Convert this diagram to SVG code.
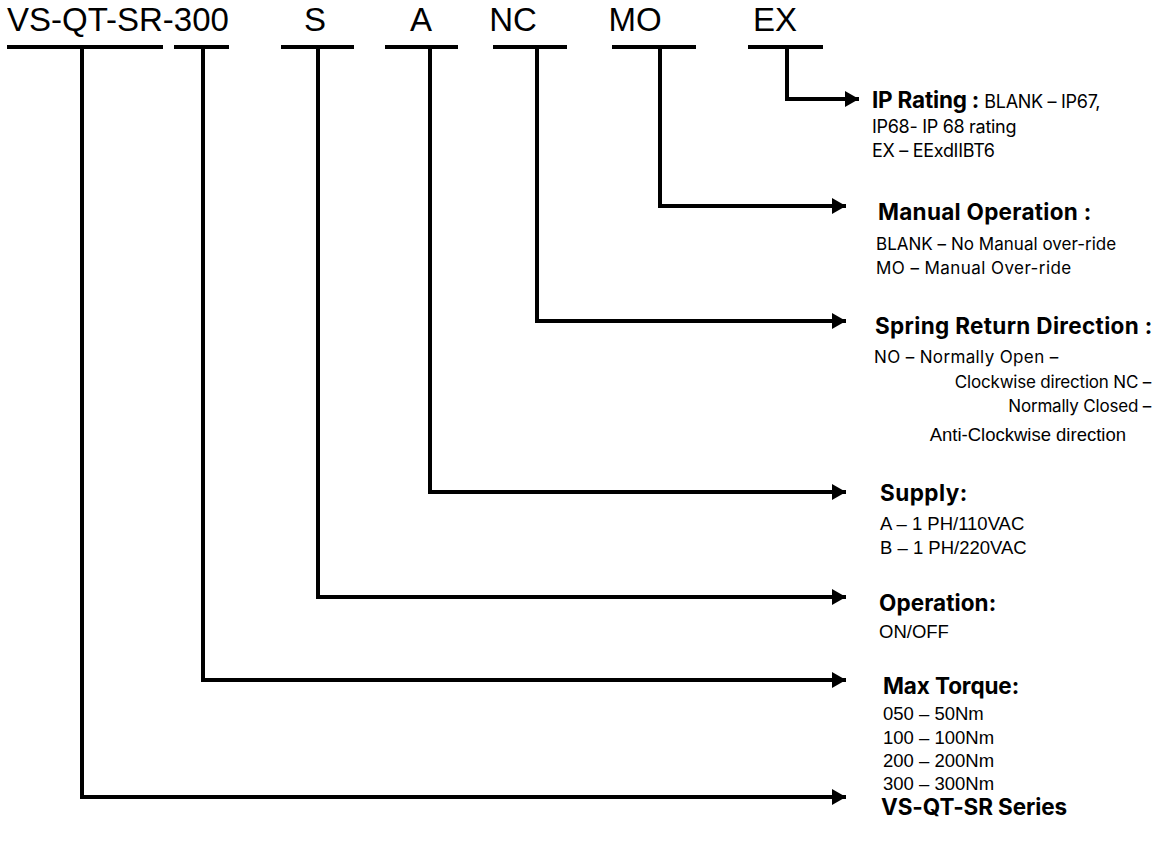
<svg xmlns="http://www.w3.org/2000/svg" width="1156" height="843" viewBox="0 0 1156 843">
<style>
.code{font-family:"Liberation Sans",Arial,sans-serif;font-size:33px;fill:#000}
.h{font-family:Inter,"Noto Sans",sans-serif;font-weight:700;font-size:22.5px;fill:#000;letter-spacing:-0.2px}
.b{font-family:Inter,"Noto Sans",sans-serif;font-size:17px;fill:#000;letter-spacing:-0.2px}
.ip{font-family:Inter,"Noto Sans",sans-serif;font-size:18px;fill:#000;letter-spacing:-0.3px}
.a{font-family:"Liberation Sans",Arial,sans-serif;font-size:18.5px;fill:#000}
.ul{stroke:#000;stroke-width:4;fill:none}
.c{stroke:#000;stroke-width:4;fill:none;marker-end:url(#arr)}
</style>
<defs>
<marker id="arr" markerUnits="userSpaceOnUse" markerWidth="16" markerHeight="18" refX="14" refY="9" orient="auto">
<path d="M0,1 L14,9 L0,17 Z" fill="#000"/>
</marker>
</defs>
<rect width="1156" height="843" fill="#fff"/>
<g id="code">
<text class="code" x="7" y="31">VS-QT-SR-300</text>
<text class="code" x="315" y="31" text-anchor="middle">S</text>
<text class="code" x="421" y="31" text-anchor="middle">A</text>
<text class="code" x="513" y="31" text-anchor="middle">NC</text>
<text class="code" x="635" y="31" text-anchor="middle">MO</text>
<text class="code" x="775" y="31" text-anchor="middle">EX</text>
<line class="ul" x1="7" y1="47" x2="163" y2="47"/>
<line class="ul" x1="174" y1="47" x2="229" y2="47"/>
<line class="ul" x1="281" y1="47" x2="354" y2="47"/>
<line class="ul" x1="385" y1="47" x2="458" y2="47"/>
<line class="ul" x1="493" y1="47" x2="567" y2="47"/>
<line class="ul" x1="612" y1="47" x2="696" y2="47"/>
<line class="ul" x1="748" y1="47" x2="823" y2="47"/>
</g>
<g id="connectors">
<polyline class="c" points="787,47 787,99 859,99"/>
<polyline class="c" points="660,47 660,206 846,206"/>
<polyline class="c" points="537,47 537,321 846,321"/>
<polyline class="c" points="430,47 430,492 846,492"/>
<polyline class="c" points="318,47 318,597 846,597"/>
<polyline class="c" points="203,47 203,680 846,680"/>
<polyline class="c" points="82,47 82,797 846,797"/>
</g>
<g id="ip-rating">
<text x="872" y="108"><tspan class="h">IP Rating : </tspan><tspan class="ip">BLANK – IP67,</tspan></text>
<text class="ip" x="872" y="133">IP68- IP 68 rating</text>
<text class="ip" x="872" y="157">EX – EExdIIBT6</text>
</g>
<g id="manual-operation">
<text class="h" x="878" y="220" textLength="213">Manual Operation :</text>
<text class="b" x="876" y="250" textLength="240">BLANK – No Manual over-ride</text>
<text class="b" x="876" y="274" textLength="195">MO – Manual Over-ride</text>
</g>
<g id="spring-return">
<text class="h" x="875" y="334" textLength="277">Spring Return Direction :</text>
<text class="b" x="874" y="363" textLength="184">NO – Normally Open –</text>
<text class="b" x="1151" y="388" text-anchor="end">Clockwise direction NC –</text>
<text class="b" x="1151" y="412" text-anchor="end">Normally Closed –</text>
<text class="a" x="1126" y="441" text-anchor="end">Anti-Clockwise direction</text>
</g>
<g id="supply">
<text class="h" x="880" y="501" textLength="87">Supply:</text>
<text class="a" x="880" y="530">A – 1 PH/110VAC</text>
<text class="a" x="880" y="554">B – 1 PH/220VAC</text>
</g>
<g id="operation">
<text class="h" x="879" y="611" textLength="117">Operation:</text>
<text class="a" x="879" y="638">ON/OFF</text>
</g>
<g id="max-torque">
<text class="h" x="883" y="694" textLength="136">Max Torque:</text>
<text class="a" x="883" y="720">050 – 50Nm</text>
<text class="a" x="883" y="744">100 – 100Nm</text>
<text class="a" x="883" y="767">200 – 200Nm</text>
<text class="a" x="883" y="790">300 – 300Nm</text>
</g>
<g id="series">
<text class="h" x="881" y="815" textLength="186">VS-QT-SR Series</text>
</g>
</svg>
